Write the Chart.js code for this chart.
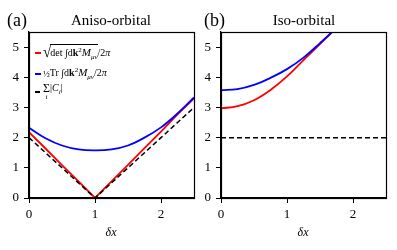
<!DOCTYPE html>
<html>
<head>
<meta charset="utf-8">
<script src="https://cdn.jsdelivr.net/npm/chart.js@4.4.0/dist/chart.umd.min.js"></script>
<style>
body { margin: 0; background: #fff; font-family: "Liberation Serif", serif; }
#wrap { position: relative; width: 397px; height: 250px; overflow: hidden; }
canvas { position: absolute; top: 0; }
.t { position: absolute; white-space: nowrap; color: #000; line-height: 1; }
.c { transform: translate(-50%, -50%); }
.lg { position: absolute; left: 35px; font-size: 10px; display: flex; align-items: center; white-space: nowrap; }
.sw { display: inline-block; width: 6px; height: 0; margin-right: 2px; }
.m { font-style: italic; font-family: "Liberation Serif", serif; font-size: 11px; }
</style>
</head>
<body>
<div id="wrap">
  <canvas id="graficoA" width="200" height="250" style="left:0"></canvas>
  <canvas id="graficoB" width="197" height="250" style="left:200px"></canvas>

  <div class="t" style="left:7px;top:11px;font-size:18px">(a)</div>
  <div class="t c" style="left:111px;top:20px;font-size:15px">Aniso-orbital</div>
  <div class="t" style="left:204px;top:11px;font-size:18px">(b)</div>
  <div class="t c" style="left:304px;top:20px;font-size:15px">Iso-orbital</div>
  <div class="t c" style="left:111px;top:232px;font-size:12px;font-style:italic">δx</div>
  <div class="t c" style="left:303px;top:232px;font-size:12px;font-style:italic">δx</div>

  <div class="lg" style="top:44px">
    <span class="sw" style="border-top:2px solid #f00"></span>
    <span style="font-size:15px;transform:scaleY(1.1);margin-right:-1px">√</span>
    <span style="border-top:1px solid #000;padding-top:1px">det ∫d<b>k</b><sup style="font-size:7px">2</sup><span class="m">M</span><sub style="font-size:7px"><i>μν</i></sub></span><span>/2<i>π</i></span>
  </div>
  <div class="lg" style="top:66px">
    <span class="sw" style="border-top:2px solid #00f"></span>
    <span style="font-size:9px">½</span><span>Tr ∫d<b>k</b><sup style="font-size:7px">2</sup><span class="m">M</span><sub style="font-size:7px"><i>μν</i></sub>/2<i>π</i></span>
  </div>
  <div class="lg" style="top:83px">
    <span class="sw" style="border-top:2px solid #000;width:5px;margin-right:3px"></span>
    <span style="display:inline-flex;flex-direction:column;align-items:center;line-height:0.9"><span style="font-size:12px">Σ</span><span style="font-size:7px;font-style:italic">i</span></span>
    <span style="margin-top:-6px">|<i>C</i><sub style="font-size:7px"><i>i</i></sub>|</span>
  </div>
</div>

<script>
const dx = [0, 0.25, 0.5, 0.75, 1, 1.25, 1.5, 1.75, 2, 2.25, 2.5]

// (a) Aniso-orbital
const anisoDet = [2.18, 1.64, 1.09, 0.55, 0, 0.55, 1.1, 1.65, 2.2, 2.77, 3.3]
const anisoTrace = [2.33, 1.98, 1.74, 1.61, 1.58, 1.61, 1.74, 2.0, 2.34, 2.8, 3.33]
const anisoSum = [2, 1.5, 1, 0.5, 0, 0.5, 1, 1.5, 2, 2.5, 3]

// (b) Iso-orbital
const isoDet = [2.97, 3.04, 3.24, 3.58, 4.03, 4.57, 5.1, 5.64, 6.24, 6.9, 7.6]
const isoTrace = [3.57, 3.61, 3.75, 3.98, 4.27, 4.65, 5.13, 5.65, 6.25, 6.9, 7.6]
const isoSum = [2, 2, 2, 2, 2, 2, 2, 2, 2, 2, 2]

const xTicks = [0, 1, 2]
const yTicks = [0, 1, 2, 3, 4, 5]

const fonteTick = { family: 'Liberation Serif', size: 13 }

function pontos(valores) {
  return dx.map((x, i) => ({ x: x, y: valores[i] }))
}

const moldura = {
  id: 'moldura',
  afterDraw(grafico) {
    const a = grafico.chartArea
    const ctx = grafico.ctx
    ctx.save()
    ctx.strokeStyle = '#000'
    ctx.lineWidth = 1.2
    ctx.strokeRect(Math.round(a.left) + 0.5, Math.round(a.top) + 0.5,
      Math.round(a.right - a.left), Math.round(a.bottom - a.top))
    ctx.restore()
  }
}

function criaGrafico(id, det, trace, soma, larguraY, direita, curvaDet) {
  return new Chart(document.getElementById(id), {
    type: 'line',
    data: {
      datasets: [
        { data: pontos(soma), borderColor: '#000', borderWidth: 1.5, borderDash: [5, 3], tension: 0, pointRadius: 0, order: 1 },
        { data: pontos(trace), borderColor: '#0000ff', borderWidth: 1.8, tension: 0.4, pointRadius: 0, order: 2 },
        { data: pontos(det), borderColor: '#ff0000', borderWidth: 1.8, tension: curvaDet, pointRadius: 0, order: 3 }
      ]
    },
    options: {
      responsive: false,
      devicePixelRatio: 1,
      animation: false,
      events: [],
      layout: { padding: { left: 0, right: direita, top: 32, bottom: 0 } },
      plugins: { legend: { display: false }, tooltip: { enabled: false } },
      scales: {
        x: {
          type: 'linear', min: 0, max: 2.5,
          afterBuildTicks: s => { s.ticks = xTicks.map(v => ({ value: v })) },
          afterFit: s => { s.height = 52 },
          ticks: { font: fonteTick, color: '#000', padding: 4, maxRotation: 0 },
          grid: { drawOnChartArea: false, tickLength: 5, tickColor: '#000' },
          border: { display: true, color: '#000', width: 1.2 }
        },
        y: {
          type: 'linear', min: 0, max: 5.5,
          afterBuildTicks: s => { s.ticks = yTicks.map(v => ({ value: v })) },
          afterFit: s => { s.width = larguraY },
          ticks: { font: fonteTick, color: '#000', padding: 5 },
          grid: { drawOnChartArea: false, tickLength: 5, tickColor: '#000' },
          border: { display: true, color: '#000', width: 1.2 }
        }
      }
    },
    plugins: [moldura]
  })
}

criaGrafico('graficoA', anisoDet, anisoTrace, anisoSum, 29, 6, 0)
criaGrafico('graficoB', isoDet, isoTrace, isoSum, 21, 11, 0.4)
</script>
</body>
</html>
